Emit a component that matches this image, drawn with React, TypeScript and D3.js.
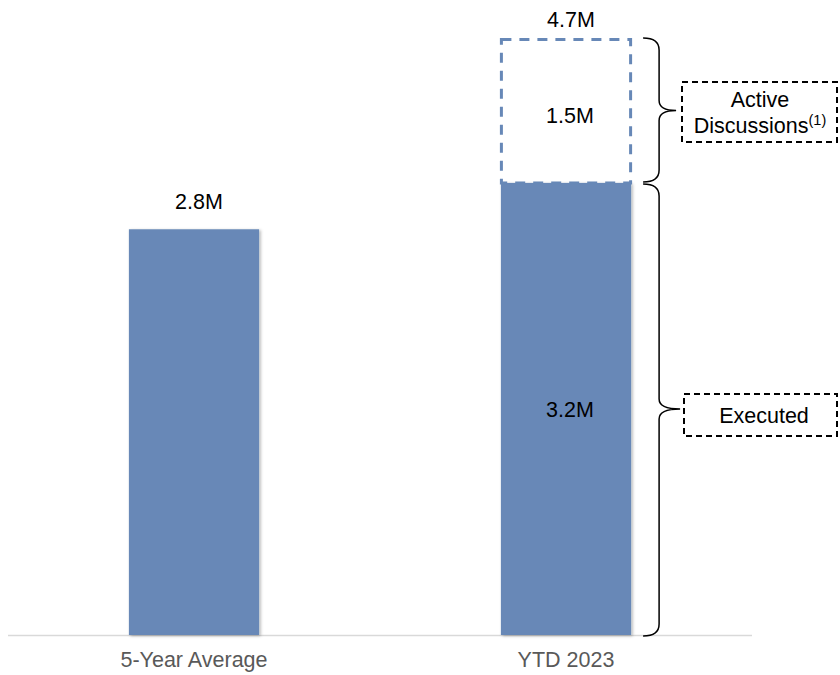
import React from "react";
import * as d3 from "d3";

// Categories and values (heights as drawn, in millions)
const categories = ["5-Year Average", "YTD 2023"];
const executedValues = [2.8, 3.12];
const pipelineValues = [0, 1.0];
const topLabels = ["2.8M", "4.7M"];
const executedLabels = ["", "3.2M"];
const pipelineLabels = ["", "1.5M"];
const annotationActive = ["Active", "Discussions", "(1)"];
const annotationExecuted = "Executed";

const W = 840;
const H = 675;
const BAR = "#6788B7";
const FONT = "'Liberation Sans', Arial, sans-serif";

function bracePath(x0: number, xv: number, xt: number, yTop: number, yBot: number, ym: number, r: number, rt: number) {
  return `M${x0},${yTop} Q${xv},${yTop} ${xv},${yTop + r} L${xv},${ym - rt} Q${xv},${ym} ${xt},${ym} Q${xv},${ym} ${xv},${ym + rt} L${xv},${yBot - r} Q${xv},${yBot} ${x0},${yBot}`;
}

export default function App() {
  const x = d3.scaleBand<string>().domain(categories).range([8, 752]).paddingInner(0.65).paddingOuter(0.325);
  const y = d3.scaleLinear().domain([0, 4.12]).range([635, 38]);
  const bw = x.bandwidth();

  const i2 = 1;
  const c2 = categories[i2];
  const x2 = x(c2)!;
  const yExecTop = y(executedValues[i2]);
  const yTotTop = y(executedValues[i2] + pipelineValues[i2]);
  const y0 = y(0);

  const braceX0 = x2 + bw + 12;
  const braceXv = braceX0 + 16;
  const brace1Mid = (yTotTop + yExecTop) / 2;
  const brace2Mid = (yExecTop + y0) / 2;

  return (
    <svg width={W} height={H} style={{ position: "absolute", left: 0, top: 0, background: "#fff" }} fontFamily={FONT}>
      <defs>
        <filter id="sh" x="-10%" y="-10%" width="130%" height="130%">
          <feDropShadow dx="1.5" dy="1" stdDeviation="1.5" floodColor="#000" floodOpacity="0.3" />
        </filter>
      </defs>
      {/* axis line */}
      <line x1={8} x2={752} y1={y0 + 0.5} y2={y0 + 0.5} stroke="#d9d9d9" strokeWidth={1.5} />
      {/* executed bars */}
      {categories.map((c, i) => (
        <rect key={c} x={x(c)!} y={y(executedValues[i])} width={bw} height={y0 - y(executedValues[i])} fill={BAR} filter="url(#sh)" />
      ))}
      {/* pipeline dashed box */}
      {categories.map((c, i) =>
        pipelineValues[i] > 0 ? (
          <rect
            key={c + "p"}
            x={x(c)! + 0.5}
            y={y(executedValues[i] + pipelineValues[i]) + 1.5}
            width={bw - 1}
            height={y(executedValues[i]) - y(executedValues[i] + pipelineValues[i]) - 1.5}
            fill="none"
            stroke={BAR}
            strokeWidth={3}
            strokeDasharray="10,8"
          />
        ) : null
      )}
      {/* top labels */}
      {categories.map((c, i) => {
        const top = y(executedValues[i] + pipelineValues[i]);
        const off = pipelineValues[i] > 0 ? 11.5 : 20;
        return (
          <text key={c + "t"} x={x(c)! + bw / 2 + 5} y={top - off} textAnchor="middle" fontSize={21.5} fill="#000">
            {topLabels[i]}
          </text>
        );
      })}
      {/* segment labels */}
      {categories.map((c, i) =>
        executedLabels[i] ? (
          <text key={c + "e"} x={x(c)! + bw / 2 + 4} y={(y(executedValues[i]) + y0) / 2 + 8} textAnchor="middle" fontSize={21.5} fill="#000">
            {executedLabels[i]}
          </text>
        ) : null
      )}
      {categories.map((c, i) =>
        pipelineLabels[i] ? (
          <text
            key={c + "pl"}
            x={x(c)! + bw / 2 + 4}
            y={(y(executedValues[i]) + y(executedValues[i] + pipelineValues[i])) / 2 + 12.5}
            textAnchor="middle"
            fontSize={21.5}
            fill="#000"
          >
            {pipelineLabels[i]}
          </text>
        ) : null
      )}
      {/* category labels */}
      {categories.map((c) => (
        <text key={c + "x"} x={x(c)! + bw / 2} y={667} textAnchor="middle" fontSize={21.5} fill="#595959">
          {c}
        </text>
      ))}
      {/* braces */}
      <path d={bracePath(braceX0, braceXv, braceX0 + 33, yTotTop, yExecTop - 1, brace1Mid, 12, 10)} fill="none" stroke="#000" strokeWidth={1.5} />
      <path d={bracePath(braceX0, braceXv, braceX0 + 37, yExecTop + 1, y0 + 1, brace2Mid, 12, 10)} fill="none" stroke="#000" strokeWidth={1.5} />
      {/* annotation boxes */}
      <rect x={682} y={82} width={155} height={60} fill="#fff" stroke="#000" strokeWidth={2} strokeDasharray="6,4" />
      <text x={760} y={107} textAnchor="middle" fontSize={21.5} fill="#000">{annotationActive[0]}</text>
      <text x={760} y={133} textAnchor="middle" fontSize={21.5} fill="#000">
        {annotationActive[1]}
        <tspan fontSize={14.5} dy={-8}>{annotationActive[2]}</tspan>
      </text>
      <rect x={684} y={394} width={153} height={42} fill="#fff" stroke="#000" strokeWidth={2} strokeDasharray="6,4" />
      <text x={764} y={423} textAnchor="middle" fontSize={21.5} fill="#000">{annotationExecuted}</text>
    </svg>
  );
}
